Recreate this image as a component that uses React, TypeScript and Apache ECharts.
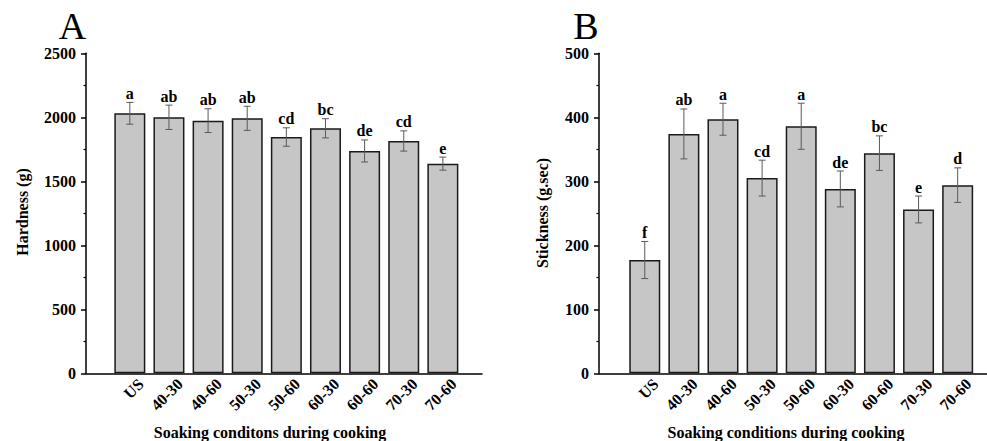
import React, { useEffect, useRef } from "react";
import * as echarts from "echarts";

const categories = ["US", "40-30", "40-60", "50-30", "50-60", "60-30", "60-60", "70-30", "70-60"];
const hardness = [2031, 2000, 1974, 1992, 1846, 1914, 1737, 1815, 1638];
const hardnessErr = [85, 95, 93, 94, 72, 75, 86, 79, 51];
const hardnessLetters = ["a", "ab", "ab", "ab", "cd", "bc", "de", "cd", "e"];
const stickness = [177, 374, 397, 305, 386, 288, 344, 256, 294];
const sticknessErr = [29, 39, 25, 28, 36, 28, 27, 21, 27];
const sticknessLetters = ["f", "ab", "a", "cd", "a", "de", "bc", "e", "d"];
const hardnessTicks = { min: 0, max: 2500, interval: 500 };
const sticknessTicks = { min: 0, max: 500, interval: 100 };

const FONT = '"Liberation Serif", "Times New Roman", serif';
const LABEL_SHIFT = 0.28;

function errorSeries(idx: number, values: number[], errs: number[], letters: string[]) {
  return {
    type: "custom",
    xAxisIndex: idx,
    yAxisIndex: idx,
    z: 5,
    encode: { x: 0, y: 1 },
    data: values.map((v, i) => [i, v, errs[i]]),
    renderItem: (params: any, api: any) => {
      const i = api.value(0);
      const v = api.value(1);
      const e = api.value(2);
      const top = api.coord([i, v + e]);
      const bot = api.coord([i, v - e]);
      const cap = 3.5;
      const st = { stroke: "#5a5a5a", lineWidth: 1 };
      return {
        type: "group",
        children: [
          { type: "line", shape: { x1: top[0], y1: top[1], x2: bot[0], y2: bot[1] }, style: st },
          { type: "line", shape: { x1: top[0] - cap, y1: top[1], x2: top[0] + cap, y2: top[1] }, style: st },
          { type: "line", shape: { x1: bot[0] - cap, y1: bot[1], x2: bot[0] + cap, y2: bot[1] }, style: st },
          {
            type: "text",
            x: top[0],
            y: top[1] - 1,
            style: {
              text: letters[params.dataIndex],
              align: "center",
              verticalAlign: "bottom",
              fontSize: 16,
              fontWeight: "bold",
              fontFamily: FONT,
              fill: "#000",
            },
          },
        ],
      };
    },
  };
}

function xAxisCfg(idx: number, min: number, max: number) {
  return {
    type: "value",
    gridIndex: idx,
    min,
    max,
    axisLine: { show: true, onZero: false, lineStyle: { color: "#000", width: 1.5 } },
    axisTick: { show: false },
    splitLine: { show: false },
    axisLabel: {
      customValues: categories.map((_, i) => i + LABEL_SHIFT),
      formatter: (v: number) => categories[Math.round(v - LABEL_SHIFT)] ?? "",
      rotate: 45,
      margin: 8,
      fontSize: 16,
      fontWeight: "bold",
      fontFamily: FONT,
      color: "#000",
    },
  };
}

function yAxisCfg(idx: number, t: { min: number; max: number; interval: number }) {
  return {
    type: "value",
    gridIndex: idx,
    min: t.min,
    max: t.max,
    interval: t.interval,
    axisLine: { show: true, onZero: false, lineStyle: { color: "#000", width: 1.5 } },
    axisTick: { show: true, length: 5, lineStyle: { color: "#000", width: 1.5 } },
    minorTick: { show: true, splitNumber: 2, length: 2.5, lineStyle: { color: "#000", width: 1.2 } },
    splitLine: { show: false },
    axisLabel: {
      margin: 10,
      fontSize: 16,
      fontWeight: "bold",
      fontFamily: FONT,
      color: "#000",
      formatter: (v: number) => String(v),
    },
  };
}

function barSeries(idx: number, values: number[]) {
  return {
    type: "bar",
    xAxisIndex: idx,
    yAxisIndex: idx,
    barWidth: 31,
    data: values.map((v, i) => [i, v]),
    itemStyle: { color: "#c6c6c6", borderColor: "#1a1a1a", borderWidth: 1.5 },
  };
}

export default function App() {
  const ref = useRef<HTMLDivElement>(null);
  useEffect(() => {
    document.body.style.margin = "0";
    const chart = echarts.init(ref.current!, null, { renderer: "svg" });
    const titleStyle = { fontSize: 16, fontWeight: "bold", fontFamily: FONT, fill: "#000" };
    const panelStyle = { align: "center", verticalAlign: "middle", fontSize: 38, lineHeight: 38, fontFamily: FONT, fill: "#000" };
    chart.setOption({
      animation: false,
      backgroundColor: "#fff",
      grid: [
        { left: 86, top: 53.3, width: 396, height: 320 },
        { left: 599, top: 53.3, width: 388, height: 320 },
      ],
      xAxis: [xAxisCfg(0, -1.12, 9.0), xAxisCfg(1, -1.17, 8.75)],
      yAxis: [yAxisCfg(0, hardnessTicks), yAxisCfg(1, sticknessTicks)],
      series: [
        barSeries(0, hardness),
        errorSeries(0, hardness, hardnessErr, hardnessLetters),
        barSeries(1, stickness),
        errorSeries(1, stickness, sticknessErr, sticknessLetters),
      ],
      graphic: [
        { type: "text", x: 72.5, y: 25.5, style: { ...panelStyle, text: "A" } },
        { type: "text", x: 586, y: 25.5, style: { ...panelStyle, text: "B" } },
        { type: "text", x: 22, y: 212, rotation: Math.PI / 2, style: { ...titleStyle, text: "Hardness (g)", align: "center", verticalAlign: "middle" } },
        { type: "text", x: 542, y: 213, rotation: Math.PI / 2, style: { ...titleStyle, text: "Stickness (g.sec)", align: "center", verticalAlign: "middle" } },
        { type: "text", x: 270, y: 432, style: { ...titleStyle, text: "Soaking conditons during cooking", align: "center", verticalAlign: "middle" } },
        { type: "text", x: 786, y: 432, style: { ...titleStyle, text: "Soaking conditions during cooking", align: "center", verticalAlign: "middle" } },
      ],
    });
    return () => chart.dispose();
  }, []);
  return <div ref={ref} style={{ position: "absolute", left: 0, top: 0, width: 987, height: 441 }} />;
}
